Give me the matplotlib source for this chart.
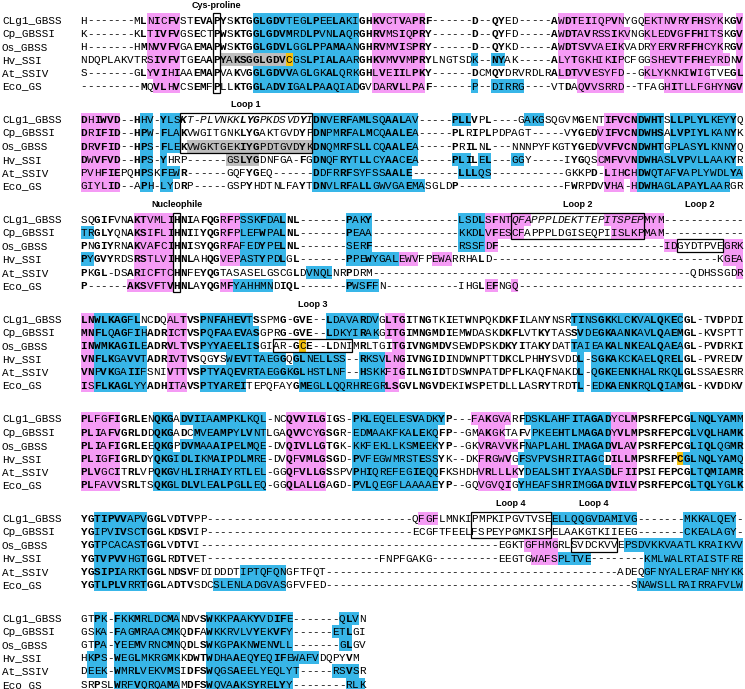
import matplotlib.pyplot as plt
from matplotlib.patches import Rectangle

# =====================================
# 1. Alignment data
# =====================================
names = ["CLg1_GBSS", "Cp_GBSSI", "Os_GBSS", "Hv_SSI", "At_SSIV", "Eco_GS"]

block1 = [
    "H" + "-" * 7 + "MLNICFVSTEVAPYSKTGGLGDVTEGLPEELAKIGHKVCTVAPRF" + "-" * 6 + "D--QYED" + "-" * 5 + "AWDTEIIQPVNYGQEKTNVRYFHSYKKGV",
    "K" + "-" * 7 + "KLTIVFVGSECTPWSKTGGLGDVMRDLPVNLAQRGHRVMSIQPRY" + "-" * 6 + "D--QYFD" + "-" * 5 + "AWDTAVRSSIKVNGKLEDVGFFHITSKGV",
    "H" + "-" * 7 + "HMNVVFVGAEMAPWSKTGGLGDVLGGLPPAMAANGHRVMVISPRY" + "-" * 6 + "D--QYKD" + "-" * 5 + "AWDTSVVAEIKVADRYERVRFFHCYKRGV",
    "NDQPLAKVTRSIVFVTGEAAPYAKSGGLGDVCGSLPIALAARGHKVMVVMPRYLNGTSDK--NYAK" + "-" * 5 + "ALYTGKHIKIPCFGGSHEVTFFHEYRDNV",
    "S" + "-" * 7 + "GLYVIHIAAEMAPVAKVGGLGDVVAGLGKALQRKGHLVEIILPKY" + "-" * 6 + "DCMQYDRVRDLRALDTVVESYFD--GKLYKNKIWIGTVEGL",
    "-" * 9 + "MQVLHVCSEMFPLLKTGGLADVIGALPAAQIADGVDARVLLPAF" + "-" * 6 + "P--DIRRG" + "-" * 4 + "VTDAQVVSRRD--TFAGHITLLFGHYNGV",
]
block2 = [
    "DHIWVD--HHV-YLSKT-PLVNKKLYGPKDSVDYIDNVERFAMLSQAALAV" + "-" * 5 + "PLLVPL" + "-" * 4 + "GAKGSQGVMGENTIFVCNDWHTSLLPLYLKEYYQ",
    "DRIFID--HPW-FLAKVWGITGNKLYGAKTGVDYPDNPMRFALMCQAALEA" + "-" * 5 + "PLRIPLPDPAGT" + "-" * 5 + "VYGEDVIFVCNDWHSALVPIYLKANYK",
    "DRVFID--HPS-FLEKVWGKTGEKIYGPDTGVDYKDNQMRFSLLCQAALEA" + "-" * 5 + "PRILNL---NNNPYFKGTYGEDVVFVCNDWHTGPLASYLKNNYQ",
    "DWVFVD--HPS-YHRP" + "-" * 6 + "GSLYGDNFGA-FGDNQFRYTLLCYAACEA" + "-" * 5 + "PLILEL---GGY" + "-" * 5 + "IYGQSCMFVVNDWHASLVPVLLAAKYR",
    "PVHFIEPQHPSKFEWR" + "-" * 6 + "GQFYGEQ" + "-" * 6 + "DDFRRFSYFSSAALE" + "-" * 7 + "LLLQS" + "-" * 11 + "GKKPD-LIHCHDWQTAFVAPLYWDLYA",
    "GIYLID--APH-LYDRP" + "-" * 5 + "GSPYHDTNLFAYTDNVLRFALLGWVGAEMASGLDP" + "-" * 16 + "FWRPDVVHA-HDWHAGLAPAYLAARGR",
]
block3 = [
    "SQGIFVNAKTVMLIHNIAFQGRFPSSKFDALNL" + "-" * 7 + "PAKY" + "-" * 13 + "LSDLSFNTQFAPPPLDEKTTEPITSPEPMYM" + "-" * 12,
    "TRGLYQNAKSIFLIHNIIYQGRFPLEFWPALNL" + "-" * 7 + "PEAA" + "-" * 13 + "KKDLVFESCFAPPPLDGISEQPIISLKPMAM" + "-" * 12,
    "PNGIYRNAKVAFCIHNISYQGRFAFEDYPELNL" + "-" * 7 + "SERF" + "-" * 13 + "RSSFDF" + "-" * 25 + "IDGYDTPVEGRK",
    "PYGVYRDSRSTLVIHNLAHQGVEPASTYPDLGL" + "-" * 7 + "PPEWYGALEWVFPEWARRHALD" + "-" * 34 + "KGEA",
    "PKGL-DSARICFTCHNFEYQGTASASELGSCGLDVNQLNRPDRM" + "-" * 48 + "QDHSSGDR",
    "P" + "-" * 6 + "AKSVFTVHNLAYQGMFYAHHMNDIQL" + "-" * 7 + "PWSFFN" + "-" * 11 + "IHGLEFNGQ" + "-" * 34,
]
block4 = [
    "LNWLKAGFLNCDQALTVSPNFAHEVTSSPMG-GVE--LDAVARDVGLTGITNGTKIETWNPQKDKFILANYNSRTINSGKKLCKVALQKECGL-TVDPDI",
    "MNFLQAGFIHADRICTVSPQFAAEVASGPRG-GVE--LDKYIRAKGITGIMNGMDIEMWDASKDKFLVTKYTASSVDEGKAANKAVLQAEMGL-KVSPTT",
    "INWMKAGILEADRVLTVSPYYAEELISGIAR-GCE--LDNIMRLTGITGIVNGMDVSEWDPSKDKYITAKYDATTAIEAKALNKEALQAEAGL-PVDRKI",
    "VNFLKGAVVTADRIVTVSQGYSWEVTTAEGGQGLNELLSS--RKSVLNGIVNGIDINDWNPTTDKCLPHHYSVDDL-SGKAKCKAELQRELGL-PVREDV",
    "VNPVKGAIIFSNIVTTVSPTYAQEVRTAEGGKGLHSTLNF--HSKKFIGILNGIDTDSWNPATDPFLKAQFNAKDL-QGKEENKHALRKQLGLSSAESRR",
    "ISFLKAGLYYADHITAVSPTYAREITEPQFAYGMEGLLQQRHREGRLSGVLNGVDEKIWSPETDLLLASRYTRDTL-EDKAENKRQLQIAMGL-KVDDKV",
]
block5 = [
    "PLFGFIGRLENQKGADVIIAAMPKLKQL-NCQVVILGIGS-PKLEQELESVADKYP---FAKGVARFDSKLAHFITAGADYCLMPSRFEPCGLNQLYAMM",
    "PLIAFVGRLDDQKGADCMVEAMPYLVNTLGAQVVCYGSGR-EDMAAKFKALEKQFP--GMAKGKTAFVPKEEHTLMAGADYVLMPSRFEPCGLVQLHAMK",
    "PLIAFIGRLEEQKGPDVMAAAIPELMQE-DVQIVLLGTGK-KKFEKLLKSMEEKYP--GKVRAVVKFNAPLAHLIMAGADVLAVPSRFEPCGLIQLQGMR",
    "PLIGFIGRLDYQKGIDLIKMAIPDLMRE-DVQFVMLGSGD-PVFEGWMRSTESSYK--DKFRGWVGFSVPVSHRITAGCDILLMPSRFEPCGLNQLYAMQ",
    "PLVGCITRLVPQKGVHLIRHAIYRTLEL-GGQFVLLGSSPVPHIQREFEGIEQQFKSHDHVRLLLKYDEALSHTIYAASDLFIIPSIFEPCGLTQMIAMR",
    "PLFAVVSRLTSQKGLDLVLEALPGLLEQ-GGQLALLGAGD-PVLQEGFLAAAAEYP--GQVGVQIGYHEAFSHRIMGGADVILVPSRFEPCGLTQLYGLK",
]
block6 = [
    "YGTIPVVAPVGGLVDTVPP" + "-" * 31 + "QFGFLMNKIPMPKIPGVTVSEELLQQGVDAMIVG" + "-" * 7 + "MKKALQEY-",
    "YGIPVIVSCTGGLKDSVIP" + "-" * 31 + "ECGFTFEELFSPEYPGMKISPELAAKGTKIIEEG" + "-" * 7 + "CKEALAGY-",
    "YGTPCACASTGGLVDTVI" + "-" * 45 + "EGKTGFHMGRLSVDCKVVEPSDVKKVAATLKRAIKVV",
    "YGTVPVVHGTGGLRDTVET" + "-" * 26 + "FNPFGAKG" + "-" * 10 + "EEGTGWAFSPLTVE" + "-" * 8 + "KMLWALRTAISTFRE",
    "YGSIPIARKTGGLNDSVFDIDDDTIPTQFQNGFTFQT" + "-" * 44 + "ADEQGFNYALERAFNHYKK",
    "YGTLPLVRRTGGLADTVSDCSLENLADGVASGFVFED" + "-" * 46 + "SNAWSLLRAIRRAFVLW",
]
block7 = [
    "GTPK-FKKMRLDCMANDVSWKKPAAKYVDIFE" + "-" * 7 + "QLVN",
    "GSKA-FAGMRAACMKQDFAWKKRVLVYEKVFY" + "-" * 6 + "ETLGI",
    "GTPA-YEEMVRNCMNQDLSWKGPAKNWENVLL" + "-" * 7 + "GLGV",
    "HKPS-WEGLMKRGMKKDWTWDHAAEQYEQIFEWAFVDQPYVM",
    "DEEK-WMRLVEKVMSIDFSWQGSAEELYEQLYT" + "-" * 5 + "RSVSR",
    "SRPSLWRFVQRQAMAMDFSWQVAAKSYRELYY" + "-" * 8 + "RLK",
]
blocks = [block1, block2, block3, block4, block5, block6, block7]

# shading per row: "first-last" alignment columns + colour code
# m = pink, c = blue, g = grey, y = yellow (cysteine)
shade1 = [
    "11-15m 27-42c 45-52m 73-82m 86-97m 100m",
    "11-15m 27-42c 45-52m 73-83m 86-97m 100m",
    "11-15m 27-42c 45-52m 73-82m 87-97m 100m",
    "11-15m 22-31g 32y 33-42c 45-52m 60c 63-64c 73-82m 87-98m 100m",
    "11-15m 27-42c 45-52m 73-82m 86-95m 100m",
    "12-15m 27-42c 45-52m 60c 63-67c 76-82m 89-100m",
]
shade2 = [
    "1-6m 10-11c 13-15c 36-51c 57-59c 68-70c 80-84m 85-88c 90-99c",
    "1-6m 10-11c 13-15c 36-51c 79-84m 85-88c 90-99c",
    "1-6m 10-11c 13-15c 17-35g 36-51c 79-84m 85-88c 90-99c",
    "1-6m 10-11c 13c 23-27g 36-51c 57-59c 61-62c 66-67c 79-84m 85-99c",
    "1-6m 10-11c 13-15c 36-50c 58-62c 80-84m 85-100c",
    "1-6m 10-11c 13-14c 36-52c 80-82m 84m 85-98c",
]
shade3 = [
    "9-14m 22-24m 25-31c 41-44c 58-61c 62-68m 80-88m",
    "1-2c 9-14m 22-24m 25-31c 41-44c 58-61c 62-67m 81-88m",
    "9-14m 22-24m 25-31c 41-44c 58-61c 62-63m 89-90m 98-100m",
    "1-2c 9-14m 22-24m 25-31c 41-48c 49-51m 54-56m 98-100m",
    "9-14m 35-38c 100m",
    "8-14m 22-23m 24-29c 41-45c 62-63m 66m",
]
shade4 = [
    "1-2m 3-9c 14-16m 19-26c 38-45c 47-49m 75-91c",
    "1-2m 3-10c 14-16m 19-27c 38-45c 47-49m 76-91c",
    "1-2m 3-10c 14-16m 19-27c 34y 48-49m 75-91c",
    "1-2m 3-10c 14-16m 23-31c 33-40c 43-46c 47-49m 76c 78-91c",
    "1-2m 3-10c 14-16m 19-40c 43-46c 47-49m 76c 78-91c",
    "1-2m 3-10c 14-16m 19-25c 34-46c 47-48m 76c 78-91c",
]
shade5 = [
    "1-6m 12-14c 16-28c 32-37m 42-55c 60-65m 68-80c 81-84m 93-100c",
    "1-6m 12-14c 18-28c 32-37m 42-54c 61-64m 69-80c 81-84m 93-100c",
    "1-6m 12-14c 16-28c 32-37m 42-54c 61-66m 68-80c 81-84m 93-100c",
    "1-6m 12-14c 15-28c 32-37m 42-54c 61-65m 67-79c 81-84m 91y 92-100c",
    "1-6m 12-14c 15-28c 32-37m 42-54c 61-66m 68-80c 81-84m 93-100c",
    "1-6m 12-14c 15-28c 32-37m 42-54c 61-65m 67-80c 81-84m 93-100c",
]
shade6 = [
    "3-10c 52-54m 72-84c 92-99c",
    "3-10c 92-99c",
    "3-10c 68-72m 83-100c",
    "3-10c 69-72m 73-77c 86-100c",
    "3-10c 25-31c 86-100c",
    "3-10c 21-31c 85-100c",
]
shade7 = [
    "3-4c 6-15c 20-32c 40-42c",
    "3-4c 6-15c 20-32c 39-41c",
    "3-4c 6-15c 20-32c 40-41c",
    "2-4c 6-15c 20-36c",
    "2-4c 6-15c 20-33c 39-42c",
    "6-15c 20-32c 41-43c",
]
shades = [shade1, shade2, shade3, shade4, shade5, shade6, shade7]

# framed motifs: (block, first row, last row, first col, last col, label)
boxes = [
    (0, 0, 5, 21, 21, "Cys-proline"),
    (1, 0, 2, 16, 35, "Loop 1"),
    (2, 0, 5, 15, 15, "Nucleophile"),
    (2, 0, 1, 66, 85, "Loop 2"),
    (2, 2, 2, 91, 97, "Loop 2"),
    (3, 2, 2, 30, 41, "Loop 3"),
    (5, 0, 1, 60, 71, "Loop 4"),
    (5, 2, 2, 75, 81, "Loop 4"),
]
# italic stretches (block, row, first col, last col)
italic_runs = [(1, 0, 16, 35), (2, 0, 66, 85)]

# =====================================
# 2. Layout
# =====================================
W, H = 745, 689
X0 = 80.5     # left edge of column 1 (px)
CW = 6.625    # column width (px)
Y0 = 20.0     # centre of first row (px)
ROW = 13.2
BLOCK = 99.7

colors = {'m': '#F59BF5', 'c': '#38B6E8', 'g': '#BEBEBE', 'y': '#F5C211'}
mono = 'Liberation Mono'
fs = CW / 0.6 * 72 / 100

groups = {'I': 'h', 'L': 'h', 'V': 'h', 'M': 'h', 'F': 'a', 'Y': 'a', 'W': 'a',
          'K': 'b', 'R': 'b', 'H': 'b', 'D': 'c', 'E': 'c', 'S': 's', 'T': 's',
          'N': 'n', 'Q': 'n'}


def row_y(b, r):
    return Y0 + b * BLOCK + r * ROW


def col_x(c):
    return X0 + (c - 1) * CW


def parse_shade(spec):
    out = []
    for tok in spec.split():
        rng, col = tok[:-1], tok[-1]
        if '-' in rng:
            a, b = rng.split('-')
        else:
            a = b = rng
        out.append((int(a), int(b), col))
    return out


def bold_mask(seqs):
    n = max(len(s) for s in seqs)
    mask = [[False] * len(s) for s in seqs]
    for i in range(n):
        col = [s[i] if i < len(s) else '-' for s in seqs]
        cnt = {}
        for ch in col:
            if ch != '-':
                g = groups.get(ch, ch)
                cnt[g] = cnt.get(g, 0) + 1
        for r, ch in enumerate(col):
            if ch != '-' and i < len(seqs[r]) and cnt[groups.get(ch, ch)] >= 4:
                mask[r][i] = True
    return mask


fig = plt.figure(figsize=(W / 100, H / 100), dpi=100)
ax = fig.add_axes([0, 0, 1, 1])
ax.set_xlim(0, W)
ax.set_ylim(H, 0)
ax.axis('off')

italic_set = set()
for b, r, c0, c1 in italic_runs:
    for c in range(c0, c1 + 1):
        italic_set.add((b, r, c))

for b, (seqs, shade) in enumerate(zip(blocks, shades)):
    bold = bold_mask(seqs)
    for r, seq in enumerate(seqs):
        y = row_y(b, r)
        # background shading
        for key, fc in colors.items():
            spans = [(col_x(a), (e - a + 1) * CW) for a, e, k in parse_shade(shade[r]) if k == key]
            if spans:
                ax.broken_barh(spans, (y - ROW / 2, ROW), facecolors=fc, linewidth=0)
        ax.text(2, y + 3.5, names[r], fontfamily=mono, fontsize=fs, ha='left', va='baseline')
        for i, ch in enumerate(seq):
            c = i + 1
            ax.text(col_x(c) + CW / 2, y + 3.5, ch, fontfamily=mono, fontsize=fs,
                    fontweight='bold' if bold[r][i] else 'normal',
                    fontstyle='italic' if (b, r, c) in italic_set else 'normal',
                    ha='center', va='baseline')

# motif frames and their labels
for b, r0, r1, c0, c1, label in boxes:
    y_top = row_y(b, r0) - ROW / 2
    ax.add_patch(Rectangle((col_x(c0), y_top), (c1 - c0 + 1) * CW, (r1 - r0 + 1) * ROW,
                           fill=False, edgecolor='black', linewidth=0.9))
    cx = col_x(c0) + (c1 - c0 + 1) * CW / 2
    ax.text(cx, row_y(b, 0) - 15, label, fontfamily='Liberation Sans', fontweight='bold',
            fontsize=6.5, ha='center', va='center')

fig.savefig('out.png', dpi=100)
